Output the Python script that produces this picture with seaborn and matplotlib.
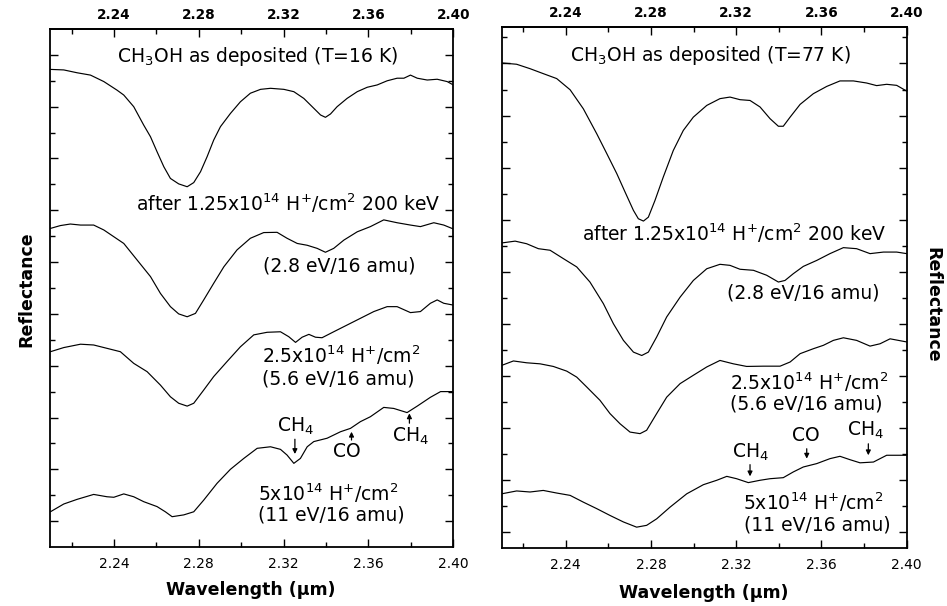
import matplotlib
matplotlib.use("Agg")
import matplotlib.pyplot as plt
from matplotlib.ticker import FixedLocator, FormatStrFormatter, NullFormatter
import seaborn as sns

sns.set_style("ticks")
plt.rcParams['font.family'] = ['DejaVu Sans']
plt.rcParams['mathtext.fontset'] = 'dejavusans'
for k in ['text.color', 'axes.labelcolor', 'xtick.color', 'ytick.color', 'axes.edgecolor']:
    plt.rcParams[k] = 'black'

# ---------------- data: T = 16 K panel ----------------
wl_16_dep = [2.2100, 2.2163, 2.2226, 2.2289, 2.2352, 2.2414, 2.2446, 2.2493, 2.2540, 2.2572,
             2.2603, 2.2635, 2.2666, 2.2705, 2.2745, 2.2776, 2.2808, 2.2839, 2.2870, 2.2902,
             2.2949, 2.2996, 2.3043, 2.3091, 2.3138, 2.3201, 2.3248, 2.3295, 2.3342, 2.3374,
             2.3397, 2.3421, 2.3452, 2.3499, 2.3547, 2.3594, 2.3641, 2.3688, 2.3735, 2.3767,
             2.3798, 2.3830, 2.3877, 2.3924, 2.3971, 2.4000]
r_16_dep = [18.44, 18.42, 18.31, 18.22, 17.97, 17.64, 17.45, 17.00, 16.29, 15.84,
            15.26, 14.68, 14.23, 14.02, 13.91, 14.07, 14.49, 15.07, 15.71, 16.23,
            16.74, 17.19, 17.52, 17.67, 17.71, 17.67, 17.58, 17.32, 16.94, 16.68,
            16.59, 16.72, 17.00, 17.32, 17.58, 17.75, 17.84, 18.00, 18.10, 18.10,
            18.22, 18.10, 18.03, 18.06, 17.97, 17.84]

wl_16_a = [2.2100, 2.2147, 2.2194, 2.2242, 2.2304, 2.2352, 2.2399, 2.2446, 2.2509, 2.2572,
           2.2619, 2.2666, 2.2705, 2.2745, 2.2784, 2.2823, 2.2870, 2.2918, 2.2980, 2.3043,
           2.3106, 2.3169, 2.3216, 2.3264, 2.3311, 2.3358, 2.3397, 2.3436, 2.3484, 2.3547,
           2.3609, 2.3672, 2.3735, 2.3798, 2.3845, 2.3908, 2.3955, 2.4000]
r_16_a = [12.30, 12.41, 12.47, 12.43, 12.43, 12.24, 11.98, 11.72, 11.08, 10.44,
          9.79, 9.28, 9.00, 8.89, 9.02, 9.54, 10.18, 10.82, 11.47, 11.92,
          12.14, 12.15, 11.92, 11.72, 11.65, 11.53, 11.38, 11.53, 11.85, 12.17,
          12.37, 12.63, 12.52, 12.43, 12.37, 12.52, 12.43, 12.28]

wl_16_b = [2.2100, 2.2163, 2.2242, 2.2304, 2.2367, 2.2430, 2.2493, 2.2556, 2.2619, 2.2666,
           2.2705, 2.2745, 2.2776, 2.2823, 2.2870, 2.2933, 2.2996, 2.3059, 2.3122, 2.3185,
           2.3224, 2.3256, 2.3287, 2.3319, 2.3350, 2.3381, 2.3436, 2.3499, 2.3562, 2.3625,
           2.3688, 2.3735, 2.3798, 2.3845, 2.3892, 2.3924, 2.3955, 2.4000]
r_16_b = [7.54, 7.70, 7.83, 7.80, 7.67, 7.54, 7.09, 6.77, 6.25, 5.80,
          5.55, 5.44, 5.55, 6.06, 6.58, 7.16, 7.73, 8.19, 8.29, 8.31,
          8.12, 7.90, 8.10, 8.21, 8.10, 8.08, 8.31, 8.57, 8.83, 9.09,
          9.28, 9.28, 9.05, 9.09, 9.41, 9.54, 9.41, 9.34]

wl_16_c = [2.2100, 2.2163, 2.2226, 2.2304, 2.2367, 2.2399, 2.2446, 2.2493, 2.2540, 2.2603,
           2.2642, 2.2674, 2.2729, 2.2776, 2.2823, 2.2886, 2.2949, 2.3012, 2.3075, 2.3138,
           2.3185, 2.3216, 2.3248, 2.3279, 2.3311, 2.3342, 2.3405, 2.3468, 2.3515, 2.3562,
           2.3609, 2.3672, 2.3719, 2.3782, 2.3830, 2.3892, 2.3940, 2.4000]
r_16_c = [1.36, 1.66, 1.84, 2.03, 1.94, 1.92, 2.05, 1.94, 1.75, 1.56,
          1.36, 1.17, 1.24, 1.36, 1.81, 2.46, 3.00, 3.42, 3.81, 3.87,
          3.77, 3.55, 3.23, 3.42, 3.87, 4.07, 4.20, 4.45, 4.58, 4.84,
          5.03, 5.39, 5.35, 5.19, 5.44, 5.78, 6.00, 6.00]

# ---------------- data: T = 77 K panel ----------------
wl_77_dep = [2.2100, 2.2170, 2.2233, 2.2295, 2.2358, 2.2421, 2.2483, 2.2546, 2.2593, 2.2640,
             2.2679, 2.2718, 2.2741, 2.2765, 2.2788, 2.2819, 2.2858, 2.2905, 2.2952, 2.2999,
             2.3062, 2.3124, 2.3171, 2.3218, 2.3265, 2.3312, 2.3359, 2.3398, 2.3421, 2.3453,
             2.3500, 2.3562, 2.3625, 2.3687, 2.3750, 2.3812, 2.3859, 2.3906, 2.3953, 2.4000]
r_77_dep = [18.02, 17.97, 17.80, 17.61, 17.42, 16.99, 16.26, 15.30, 14.54, 13.77,
            13.06, 12.36, 12.04, 11.95, 12.10, 12.74, 13.64, 14.66, 15.43, 15.94,
            16.39, 16.65, 16.71, 16.61, 16.58, 16.33, 15.88, 15.59, 15.59, 15.94,
            16.43, 16.84, 17.12, 17.33, 17.33, 17.25, 17.15, 17.20, 17.16, 16.94]

wl_77_a = [2.2100, 2.2163, 2.2217, 2.2272, 2.2327, 2.2389, 2.2452, 2.2514, 2.2577, 2.2624,
           2.2671, 2.2718, 2.2757, 2.2788, 2.2827, 2.2874, 2.2937, 2.2999, 2.3062, 2.3124,
           2.3171, 2.3218, 2.3281, 2.3343, 2.3398, 2.3429, 2.3468, 2.3515, 2.3578, 2.3640,
           2.3703, 2.3765, 2.3828, 2.3891, 2.3953, 2.4000]
r_77_a = [11.11, 11.18, 11.08, 10.89, 10.83, 10.51, 10.19, 9.61, 8.78, 8.01,
          7.37, 6.92, 6.79, 6.92, 7.50, 8.27, 9.03, 9.67, 10.12, 10.29,
          10.25, 10.10, 10.06, 9.87, 9.61, 9.67, 9.93, 10.21, 10.44, 10.70,
          10.93, 10.89, 10.70, 10.76, 10.76, 10.70]

wl_77_b = [2.2100, 2.2155, 2.2217, 2.2280, 2.2342, 2.2405, 2.2452, 2.2499, 2.2561, 2.2608,
           2.2655, 2.2702, 2.2749, 2.2780, 2.2827, 2.2874, 2.2937, 2.2999, 2.3062, 2.3124,
           2.3187, 2.3249, 2.3328, 2.3406, 2.3453, 2.3500, 2.3562, 2.3609, 2.3656, 2.3703,
           2.3765, 2.3828, 2.3875, 2.3922, 2.4000]
r_77_b = [6.41, 6.58, 6.51, 6.47, 6.37, 6.19, 5.96, 5.58, 5.07, 4.56,
          4.17, 3.85, 3.79, 3.92, 4.56, 5.19, 5.71, 6.03, 6.35, 6.60,
          6.47, 6.37, 6.38, 6.38, 6.54, 6.86, 7.05, 7.18, 7.37, 7.47,
          7.37, 7.15, 7.24, 7.43, 7.31]

wl_77_c = [2.2100, 2.2170, 2.2233, 2.2295, 2.2358, 2.2421, 2.2483, 2.2546, 2.2608, 2.2671,
           2.2733, 2.2780, 2.2827, 2.2890, 2.2968, 2.3046, 2.3109, 2.3156, 2.3202, 2.3257,
           2.3312, 2.3359, 2.3421, 2.3468, 2.3515, 2.3578, 2.3640, 2.3687, 2.3734, 2.3781,
           2.3844, 2.3906, 2.4000]
r_77_c = [1.48, 1.59, 1.55, 1.61, 1.51, 1.42, 1.16, 0.91, 0.65, 0.40,
          0.20, 0.27, 0.52, 0.97, 1.48, 1.83, 2.00, 2.15, 2.06, 1.91,
          2.00, 2.06, 2.10, 2.32, 2.51, 2.64, 2.83, 2.92, 2.79, 2.67,
          2.70, 2.96, 2.96]

x_major = [2.24, 2.28, 2.32, 2.36, 2.40]
x_minor = [2.22, 2.26, 2.30, 2.34, 2.38]
x_label = "Wavelength (\u03bcm)"
y_label = "Reflectance"

title_16 = "CH$_3$OH as deposited (T=16 K)"
title_77 = "CH$_3$OH as deposited (T=77 K)"
lab_after = "after 1.25x10$^{14}$ H$^{+}$/cm$^{2}$ 200 keV"
lab_28 = "(2.8 eV/16 amu)"
lab_25 = "2.5x10$^{14}$ H$^{+}$/cm$^{2}$"
lab_56 = "(5.6 eV/16 amu)"
lab_5 = "5x10$^{14}$ H$^{+}$/cm$^{2}$"
lab_11 = "(11 eV/16 amu)"

fig = plt.figure(figsize=(9.47, 6.06), dpi=100)
axL = fig.add_axes([50.4 / 947, (606 - 547) / 606, 402.9 / 947, 518 / 606])
axR = fig.add_axes([501.7 / 947, (606 - 548) / 606, 405 / 947, 521 / 606])

FS = 13.5

def style_axis(ax, ylim, ymaj, ymin):
    ax.set_xlim(2.21, 2.40)
    ax.set_ylim(*ylim)
    ax.xaxis.set_major_locator(FixedLocator(x_major))
    ax.xaxis.set_minor_locator(FixedLocator(x_minor))
    ax.xaxis.set_major_formatter(FormatStrFormatter('%.2f'))
    ax.yaxis.set_major_locator(FixedLocator(ymaj))
    ax.yaxis.set_minor_locator(FixedLocator(ymin))
    ax.yaxis.set_major_formatter(NullFormatter())
    ax.tick_params(axis='both', which='both', direction='in', top=False, right=True,
                   left=True, bottom=True, width=1.0, color='black')
    ax.tick_params(axis='both', which='major', length=6)
    ax.tick_params(axis='both', which='minor', length=3.5)
    ax.tick_params(axis='x', which='major', labelbottom=True, labeltop=False,
                   labelsize=10, pad=7)
    ax.tick_params(axis='y', labelleft=False, labelright=False)
    for s in ax.spines.values():
        s.set_linewidth(1.3)
        s.set_color('black')
    ax.set_xlabel('')
    ax.set_ylabel('')
    sec = ax.secondary_xaxis('top')
    sec.set_xticks(x_major, labels=['%.2f' % v for v in x_major],
                   fontweight='bold', fontsize=9.8)
    sec.xaxis.set_minor_locator(FixedLocator(x_minor))
    sec.tick_params(axis='x', which='both', direction='in', width=1.0, color='black')
    sec.tick_params(axis='x', which='major', length=6, pad=5)
    sec.tick_params(axis='x', which='minor', length=3.5)
    sec.spines['top'].set_linewidth(1.3)

def draw(ax, wl, r):
    sns.lineplot(x=wl, y=r, ax=ax, color='black', linewidth=0.85, sort=False,
                 estimator=None)

def arrow(ax, x, y0, y1):
    ax.annotate('', xy=(x, y1), xytext=(x, y0),
                arrowprops=dict(arrowstyle='-|>', color='black', lw=0.9,
                                mutation_scale=7, shrinkA=0, shrinkB=0))

# left panel
for wl, r in [(wl_16_dep, r_16_dep), (wl_16_a, r_16_a), (wl_16_b, r_16_b), (wl_16_c, r_16_c)]:
    draw(axL, wl, r)
style_axis(axL, (0, 20), list(range(1, 20, 2)), list(range(2, 20, 2)))

axL.text(2.3075, 18.92, title_16, ha='center', va='center', fontsize=FS)
axL.text(2.3938, 13.28, lab_after, ha='right', va='center', fontsize=FS)
axL.text(2.346, 10.85, lab_28, ha='center', va='center', fontsize=FS)
axL.text(2.3098, 7.41, lab_25, ha='left', va='center', fontsize=FS)
axL.text(2.3100, 6.47, lab_56, ha='left', va='center', fontsize=FS)
axL.text(2.3079, 2.07, lab_5, ha='left', va='center', fontsize=FS)
axL.text(2.3079, 1.24, lab_11, ha='left', va='center', fontsize=FS)
axL.text(2.3254, 4.65, "CH$_4$", ha='center', va='center', fontsize=FS)
axL.text(2.3500, 3.68, "CO", ha='center', va='center', fontsize=FS)
axL.text(2.3796, 4.26, "CH$_4$", ha='center', va='center', fontsize=FS)
arrow(axL, 2.3253, 4.16, 3.59)
arrow(axL, 2.3520, 4.13, 4.45)
arrow(axL, 2.3793, 4.78, 5.16)

# right panel
for wl, r in [(wl_77_dep, r_77_dep), (wl_77_a, r_77_a), (wl_77_b, r_77_b), (wl_77_c, r_77_c)]:
    draw(axR, wl, r)
style_axis(axR, (-0.6, 19.4), list(range(0, 20, 2)), list(range(1, 20, 2)))

axR.text(2.3080, 18.31, title_77, ha='center', va='center', fontsize=FS)
axR.text(2.3903, 11.47, lab_after, ha='right', va='center', fontsize=FS)
axR.text(2.3515, 9.17, lab_28, ha='center', va='center', fontsize=FS)
axR.text(2.3171, 5.77, lab_25, ha='left', va='center', fontsize=FS)
axR.text(2.3171, 4.91, lab_56, ha='left', va='center', fontsize=FS)
axR.text(2.3234, 1.16, lab_5, ha='left', va='center', fontsize=FS)
axR.text(2.3237, 0.27, lab_11, ha='left', va='center', fontsize=FS)
axR.text(2.3268, 3.08, "CH$_4$", ha='center', va='center', fontsize=FS)
axR.text(2.3525, 3.72, "CO", ha='center', va='center', fontsize=FS)
axR.text(2.3806, 3.92, "CH$_4$", ha='center', va='center', fontsize=FS)
arrow(axR, 2.3265, 2.60, 2.15)
arrow(axR, 2.3531, 3.21, 2.83)
arrow(axR, 2.3820, 3.40, 2.96)

# axis titles
fig.text(251 / 947, 1 - 590 / 606, x_label, ha='center', va='center',
         fontsize=12.5, fontweight='bold')
fig.text(704 / 947, 1 - 593 / 606, x_label, ha='center', va='center',
         fontsize=12.5, fontweight='bold')
fig.text(26 / 947, 1 - 289 / 606, y_label, ha='center', va='center',
         fontsize=12.5, fontweight='bold', rotation=90)
fig.text(932 / 947, 1 - 305 / 606, y_label, ha='center', va='center',
         fontsize=12.5, fontweight='bold', rotation=-90)

fig.savefig("out.png", dpi=100)
